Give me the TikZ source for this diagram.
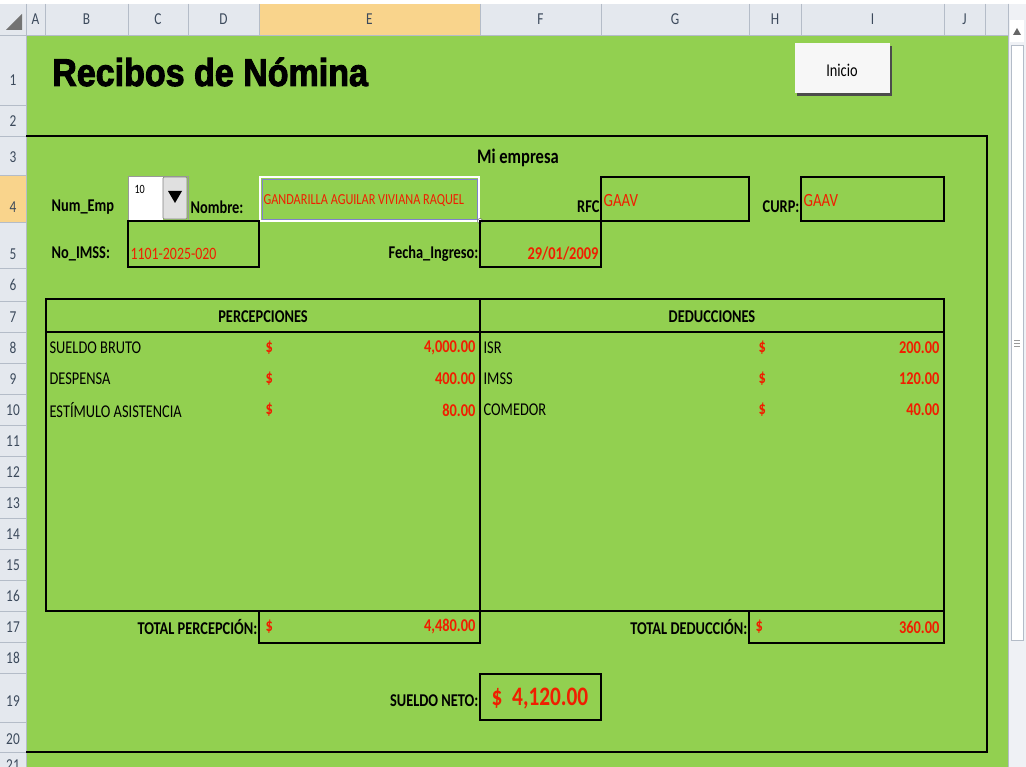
\documentclass[tikz,border=0pt]{standalone}
\usepackage{fontspec}
\setmainfont[FakeStretch=0.8]{Carlito}
\newfontfamily\titlefont[FakeStretch=0.88,FakeBold=2.5]{Liberation Sans}
\definecolor{xlgreen}{HTML}{92D050}
\definecolor{xlred}{HTML}{F01E00}
\definecolor{hdrbg}{HTML}{E4E8EE}
\definecolor{hdrsel}{HTML}{F9D48C}
\definecolor{hdrline}{HTML}{B4BCC8}
\definecolor{hdrtext}{HTML}{3C4A5C}
\begin{document}
\begin{tikzpicture}[x=0.75pt,y=-0.75pt,
  hdr/.style={font=\fontsize{12.5}{14}\selectfont, text=hdrtext, inner sep=0pt},
  lbl/.style={font=\bfseries\fontsize{13.5}{15}\selectfont, inner sep=1pt},
  txt/.style={font=\fontsize{13.5}{15}\selectfont, inner sep=1pt},
  val/.style={font=\bfseries\fontsize{13.5}{15}\selectfont, text=xlred, inner sep=1pt},
  sm/.style={font=\fontsize{11.5}{13}\selectfont, text=xlred, inner sep=1pt},
  thick box/.style={draw=black, line width=1.8pt},
  gl/.style={draw=hdrline, line width=0.6pt}]
\useasboundingbox (0,0) rectangle (1026,767);
% backgrounds
\fill[white] (0,0) rectangle (1026,767);
\fill[xlgreen] (26,35) rectangle (1008,767);
\fill[hdrbg] (0,4) rectangle (1008,35);
\fill[hdrbg] (0,35) rectangle (26,767);
\fill[hdrsel] (259,4) rectangle (480,35);
\fill[hdrsel] (0,175) rectangle (26,222);
\fill[black!55] (6,30) -- (22,30) -- (22,14) -- cycle;
% column header lines & labels
\foreach \xx in {26,45,128,188,259,480,601,749,801,944,985,1008} \draw[gl] (\xx,4) -- (\xx,35);
\draw[gl] (0,35) -- (1008,35);
\draw[gl] (26,35) -- (26,767);
\foreach \c/\xx in {A/35.5,B/86.5,C/158,D/223.5,E/369.5,F/540.5,G/675,H/775,I/872.5,J/964.5}
  \node[hdr] (col\c) at (\xx,19) {\c};
% row header
\foreach \yy in {105,136,175,222,268,301,332,363,394,425,456,487,518,549,580,611,642,673,722,752} \draw[gl] (0,\yy) -- (26,\yy);
\foreach \r/\yy in {1/80,2/121,3/157,4/207,5/254,6/285,7/317,8/348,9/379,10/410,11/441,12/472,13/503,14/534,15/565,16/596,17/627,18/658,19/701,20/739}
  \node[hdr] (row\r) at (13,\yy) {\r};
\node[hdr, anchor=north] (row21) at (13,759) {21};
% scrollbar
\fill[hdrbg!60] (1008,4) rectangle (1026,767);
\draw[hdrline] (1008,4) -- (1008,767);
\fill[white] (1010,20) rectangle (1024,42);
\fill[black!60] (1013,35) -- (1021,35) -- (1017,28) -- cycle;
\draw[hdrline, fill=white] (1011,45) rectangle (1023,640);
\draw[black!40] (1014,340) -- (1020,340) (1014,343) -- (1020,343) (1014,346) -- (1020,346);
% title and button
\node[font=\titlefont\bfseries\fontsize{29}{32}\selectfont, anchor=west, inner sep=0pt] (title) at (52,72) {Recibos de Nómina};
\fill[black!70] (797,46) rectangle (892,96);
\fill[white!97!black] (795,43) rectangle (890,93);
\node[font=\fontsize{13.5}{15}\selectfont] (inicio) at (842,70) {Inicio};
% outer frame
\draw[line width=1.8pt] (26,136) -- (987,136) -- (987,752) -- (26,752);
\node[font=\bfseries\fontsize{15.5}{18}\selectfont] (empresa) at (518,158) {Mi empresa};
% row 4
\node[lbl, anchor=west] (numemp) at (50,207) {Num\_Emp};
\fill[white] (128,176) rectangle (163,220);
\draw[black!40] (128,176) rectangle (188,220);
\draw[black!50, fill=black!12, rounded corners=1pt] (163,177) rectangle (187,219);
\node[font=\fontsize{9.5}{10}\selectfont, anchor=north west, inner sep=1pt] (num) at (133,184) {10};
\fill[black] (168,191) -- (182,191) -- (175,203) -- cycle;
\node[lbl, anchor=west] (nombre) at (189,207) {Nombre:};
\draw[white, line width=1.8pt] (260,177) rectangle (479,221);
\draw[black!40!blue!50, line width=0.6pt] (262,179) rectangle (477,219);
\draw[black, line width=1.8pt] (128,221) -- (259,221);
\draw[black, line width=1.8pt] (480,221) -- (601,221);
\fill[white] (480,221) circle (2.5);
\draw[black!60] (480,221) circle (2.5);
\node[sm, anchor=west] (nomval) at (262,201) {GANDARILLA AGUILAR VIVIANA RAQUEL};
\node[lbl, anchor=east] (rfc) at (601,207) {RFC};
\draw[thick box] (601,177) rectangle (749,221);
\node[val, anchor=west, font=\fontsize{14}{15}\selectfont] (rfcval) at (602,201) {GAAV};
\node[lbl, anchor=east] (curp) at (801,207) {CURP:};
\draw[thick box] (801,177) rectangle (944,221);
\node[val, anchor=west, font=\fontsize{14}{15}\selectfont] (curpval) at (802,201) {GAAV};
% row 5
\node[lbl, anchor=west] (imss) at (50,254) {No\_IMSS:};
\draw[thick box] (128,221) rectangle (259,267);
\node[val, anchor=west, font=\fontsize{13}{15}\selectfont] (imssval) at (129,254) {1101-2025-020};
\node[lbl, anchor=east] (fecha) at (480,254) {Fecha\_Ingreso:};
\draw[thick box] (480,221) rectangle (601,267);
\node[val, anchor=east] (fechaval) at (600,254) {29/01/2009};
% table
\draw[thick box] (46,299) rectangle (944,611);
\draw[line width=1.8pt] (480,299) -- (480,611);
\draw[line width=1pt] (46,332) -- (944,332);
\node[lbl] (perc) at (263,317) {PERCEPCIONES};
\node[lbl] (ded) at (712,317) {DEDUCCIONES};
\foreach \nm/\t/\v/\yy in {a/SUELDO BRUTO/{4,000.00}/348, b/DESPENSA/400.00/379, c/ESTÍMULO ASISTENCIA/80.00/410}{
  \node[txt, anchor=west] (p\nm) at (48,\yy) {\t};
  \node[val, anchor=west] (pd\nm) at (264,\yy) {\$};
  \node[val, anchor=east] (pv\nm) at (477,\yy) {\v};}
\foreach \nm/\t/\v/\yy in {a/ISR/200.00/348, b/IMSS/120.00/379, c/COMEDOR/40.00/410}{
  \node[txt, anchor=west] (d\nm) at (482,\yy) {\t};
  \node[val, anchor=west] (dd\nm) at (757,\yy) {\$};
  \node[val, anchor=east] (dv\nm) at (941,\yy) {\v};}
% totals
\node[lbl, anchor=east] (totp) at (259,627) {TOTAL PERCEPCIÓN:};
\draw[thick box] (259,611) rectangle (480,643);
\node[val, anchor=west] (totpd) at (264,627) {\$};
\node[val, anchor=east] (totpv) at (477,627) {4,480.00};
\node[lbl, anchor=east] (totd) at (749,627) {TOTAL DEDUCCIÓN:};
\draw[thick box] (749,611) rectangle (944,643);
\node[val, anchor=west] (totdd) at (754,627) {\$};
\node[val, anchor=east] (totdv) at (941,627) {360.00};
% neto
\node[lbl, anchor=east] (neto) at (480,701) {SUELDO NETO:};
\draw[thick box] (480,674) rectangle (601,720);
\node[val, font=\bfseries\fontsize{20}{22}\selectfont] (netov) at (540,699) {\$~~4,120.00};
\end{tikzpicture}
\end{document}
